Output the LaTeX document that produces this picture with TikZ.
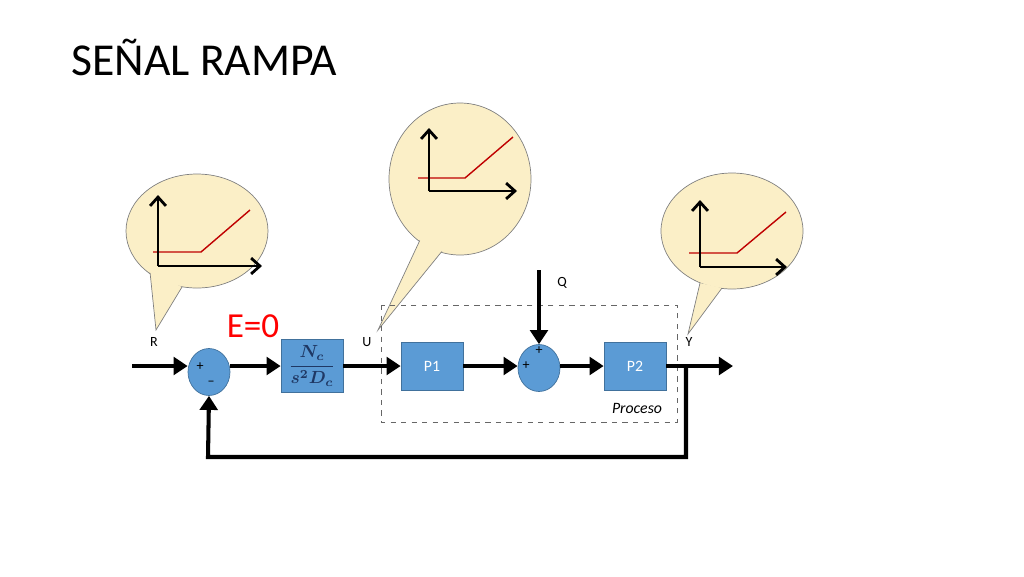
\documentclass[tikz,border=0pt]{standalone}
\usepackage{fontspec}
\usepackage{amsmath}
\setmainfont{Carlito}
\usetikzlibrary{arrows.meta,positioning,shapes.geometric}
\definecolor{blockblue}{RGB}{91,155,213}
\definecolor{blockedge}{RGB}{65,113,156}
\definecolor{bubble}{RGB}{251,239,199}
\definecolor{fracblue}{RGB}{31,56,100}
\tikzset{
  block/.style={rectangle, draw=blockedge, fill=blockblue, minimum width=1.24cm, minimum height=0.96cm, text=white, font=\fontsize{9}{10}\selectfont},
  sum/.style={ellipse, draw=blockedge, fill=blockblue, minimum width=0.84cm, minimum height=0.94cm, inner sep=0pt},
  sig/.style={line width=2.3pt, -{Triangle[length=8pt,width=10pt]}},
  lbl/.style={font=\fontsize{8}{9}\selectfont},
  sgn/.style={font=\fontsize{8}{9}\selectfont, inner sep=0pt},
  axis/.style={line width=1.6pt, -{Straight Barb[length=5pt,width=9pt]}},
  ramp/.style={red!75!black, line width=0.8pt}
}
% bubble: centre, radii, tail tip, two tail base points
\newcommand\speechbubble[7]{%
  \fill[bubble, draw=gray] (#1,#2) ellipse [x radius=#3, y radius=#4];
  \filldraw[fill=bubble, draw=gray] #6 -- #5 -- #7;
  \fill[bubble] (#1,#2) ellipse [x radius=#3-1, y radius=#4-1];
}
\begin{document}
\begin{tikzpicture}[x=0.02cm, y=-0.02cm]
    \useasboundingbox (0,0) rectangle (1024,576);
    \node[anchor=base west, font=\fontsize{26}{28}\selectfont, inner sep=0pt] (title) at (71,75) {SEÑAL RAMPA};

    % bubbles
    \speechbubble{197}{231}{71}{57}{(156,330)}{(150,272)}{(182,287)}
    \speechbubble{460}{179}{71}{76}{(378,330)}{(420,240)}{(443,250)}
    \speechbubble{732}{231}{71}{58}{(688,334)}{(700,283)}{(722,288)}
    \draw[ramp] (153,252) -- (201,252) -- (250,210);
    \draw[axis] (158,266) -- (158,195);
    \draw[axis] (158,266) -- (262,266);
    \draw[ramp] (418,178) -- (465,178) -- (513,137);
    \draw[axis] (429,191) -- (429,128);
    \draw[axis] (429,191) -- (517,191);
    \draw[ramp] (689,253) -- (737,253) -- (786,212);
    \draw[axis] (700,267) -- (700,200);
    \draw[axis] (700,267) -- (787,267);

    % process frame
    \draw[dashed, gray!80!black] (381,305) rectangle (677,422);
    \node[lbl, font=\fontsize{9}{10}\selectfont\itshape] (proc) at (637,408) {Proceso};

    % blocks
    \node[sum] (s1) at (209,372) {};
    \node[sgn] at (200,367) {+};
    \node[sgn] at (211,383) {--};
    \node[block, text=fracblue, font=\fontsize{10}{11}\selectfont\boldmath] (ctrl) at (312,366) {$\displaystyle\frac{N_c}{s^2D_c}$};
    \node[block] (p1) at (432,366) {P1};
    \node[sum] (s2) at (539,368) {};
    \node[sgn] at (539,351) {+};
    \node[sgn] at (526,366) {+};
    \node[block] (p2) at (635,366) {P2};

    \coordinate (in) at (132,366);
    \coordinate (out) at (733,366);
    \coordinate (split) at (686,366);
    \coordinate (fb) at (208,457);
    \coordinate (qin) at (539,270);

    % labels
    \node[lbl] (r) at (154,342) {R};
    \node[lbl] (u) at (367,342) {U};
    \node[lbl] (y) at (689,342) {Y};
    \node[lbl] (q) at (562,283) {Q};
    \node[red, font=\fontsize{20}{22}\selectfont] (e) at (253,326) {E=0};

    % signals
    \draw[sig] (in) -- (s1.west |- in);
    \draw[sig] (s1.east |- in) -- (ctrl);
    \draw[sig] (ctrl) -- (p1);
    \draw[sig] (p1) -- (s2.west |- p1);
    \draw[sig] (qin) -- (s2.north);
    \draw[sig] (s2.east |- p2) -- (p2);
    \draw[sig] (p2) -- (out);
    \draw[sig] (split) |- (fb) -- (s1.south);
\end{tikzpicture}
\end{document}
